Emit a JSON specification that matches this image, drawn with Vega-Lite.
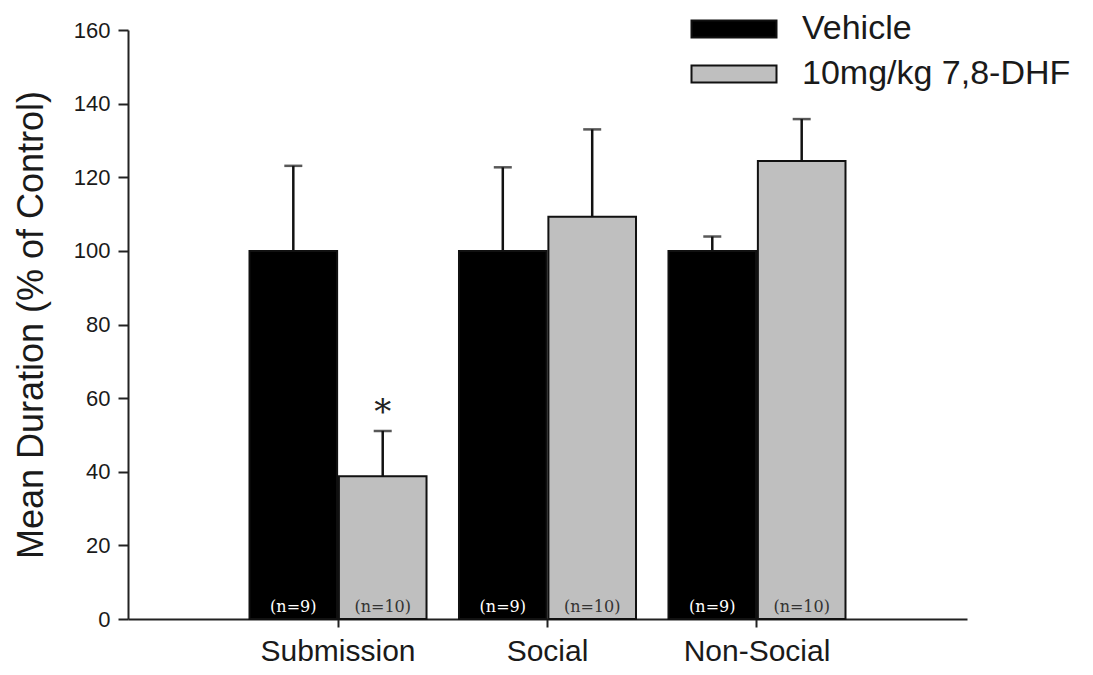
{
  "$schema": "https://vega.github.io/schema/vega-lite/v6.json",
  "width": 839,
  "height": 589,
  "autosize": "none",
  "padding": {"left": 128, "top": 30, "right": 126, "bottom": 56},
  "background": "white",
  "config": {
    "view": {"stroke": null},
    "font": "Liberation Sans"
  },
  "data": {
    "values": [
      {"category": "Submission", "group": "Vehicle", "mean": 100, "upper": 123.1, "n": "(n=9)", "star": ""},
      {"category": "Submission", "group": "10mg/kg 7,8-DHF", "mean": 38.8, "upper": 51.1, "n": "(n=10)", "star": "*"},
      {"category": "Social", "group": "Vehicle", "mean": 100, "upper": 122.7, "n": "(n=9)", "star": ""},
      {"category": "Social", "group": "10mg/kg 7,8-DHF", "mean": 109.3, "upper": 133.0, "n": "(n=10)", "star": ""},
      {"category": "Non-Social", "group": "Vehicle", "mean": 100, "upper": 103.9, "n": "(n=9)", "star": ""},
      {"category": "Non-Social", "group": "10mg/kg 7,8-DHF", "mean": 124.4, "upper": 135.8, "n": "(n=10)", "star": ""}
    ]
  },
  "encoding": {
    "x": {
      "field": "category",
      "type": "nominal",
      "sort": ["Submission", "Social", "Non-Social"],
      "scale": {"paddingInner": 0.155, "paddingOuter": 0.58},
      "axis": {
        "title": null,
        "labelAngle": 0,
        "labelFontSize": 30,
        "labelColor": "#1a1a1a",
        "labelPadding": 9,
        "tickSize": 8,
        "tickWidth": 2,
        "tickColor": "#222",
        "domainColor": "#222",
        "domainWidth": 2
      }
    },
    "xOffset": {
      "field": "group",
      "type": "nominal",
      "sort": ["Vehicle", "10mg/kg 7,8-DHF"],
      "scale": {"paddingInner": 0.02}
    }
  },
  "layer": [
    {
      "mark": {"type": "bar", "stroke": "#111", "strokeWidth": 2},
      "encoding": {
        "y": {
          "field": "mean",
          "type": "quantitative",
          "scale": {"domain": [0, 160], "nice": false},
          "axis": {
            "title": "Mean Duration (% of Control)",
            "titleFontSize": 36,
            "titleFontWeight": "normal",
            "titleColor": "#1a1a1a",
            "titlePadding": 23,
            "values": [0, 20, 40, 60, 80, 100, 120, 140, 160],
            "grid": false,
            "labelFontSize": 22,
            "labelColor": "#1a1a1a",
            "labelPadding": 8,
            "tickSize": 10,
            "tickWidth": 2,
            "tickColor": "#222",
            "domainColor": "#222",
            "domainWidth": 2
          }
        },
        "color": {
          "field": "group",
          "type": "nominal",
          "sort": ["Vehicle", "10mg/kg 7,8-DHF"],
          "scale": {"domain": ["Vehicle", "10mg/kg 7,8-DHF"], "range": ["#000000", "#bfbfbf"]},
          "legend": {
            "title": null,
            "orient": "none",
            "legendX": 589,
            "legendY": -18,
            "padding": 0,
            "symbolType": "M-5,-1H5V1H-5Z",
            "symbolSize": 289,
            "symbolStrokeColor": "#111",
            "symbolStrokeWidth": 2,
            "labelFontSize": 34,
            "labelColor": "#1a1a1a",
            "labelOffset": 51,
            "rowPadding": 11,
            "labelLimit": 400
          }
        }
      }
    },
    {
      "mark": {"type": "rule", "color": "#111", "strokeWidth": 2.5},
      "encoding": {
        "y": {"field": "mean", "type": "quantitative"},
        "y2": {"field": "upper"}
      }
    },
    {
      "mark": {"type": "tick", "color": "#111", "thickness": 2.5, "size": 18},
      "encoding": {
        "y": {"field": "upper", "type": "quantitative"}
      }
    },
    {
      "mark": {"type": "text", "font": "DejaVu Serif", "fontSize": 16, "baseline": "alphabetic", "dy": -7},
      "encoding": {
        "y": {"datum": 0, "type": "quantitative"},
        "text": {"field": "n"},
        "color": {"condition": {"test": "datum.group === 'Vehicle'", "value": "#ffffff"}, "value": "#333333"}
      }
    },
    {
      "mark": {"type": "text", "font": "DejaVu Serif", "fontSize": 34, "baseline": "middle", "dy": -18, "color": "#222"},
      "encoding": {
        "y": {"field": "upper", "type": "quantitative"},
        "text": {"field": "star"}
      }
    }
  ]
}
